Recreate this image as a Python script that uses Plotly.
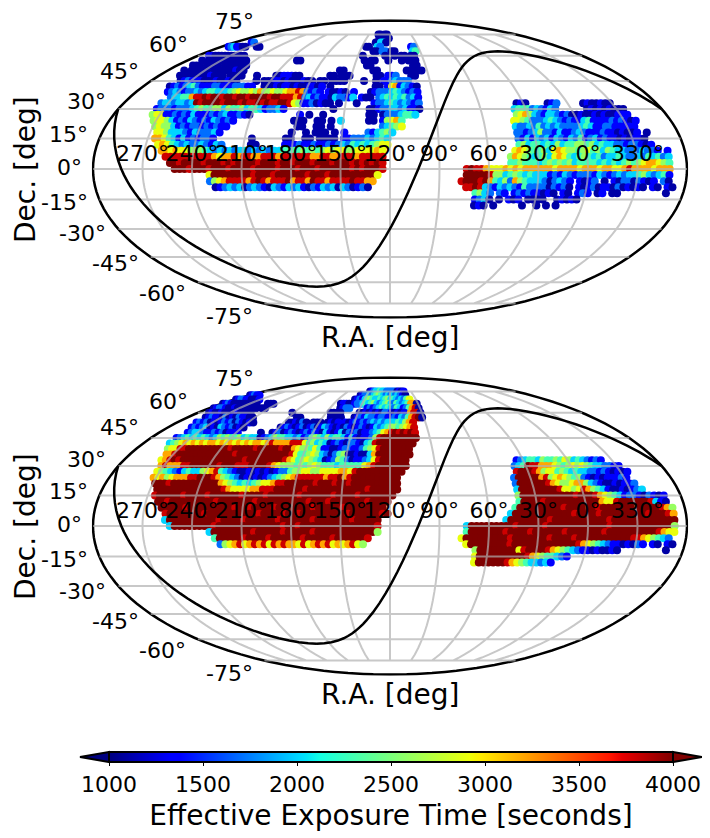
import plotly.graph_objects as go

# the page has an 8 px body margin, so the figure is 702 x 830 starting at (8, 8)
W, H = 702, 830


def px(x):
    return (x - 8) / W


def py(y):
    return 1 - (y - 8) / H


# declination of each row of cells, 3 deg steps
dec_rows = [75, 72, 69, 66, 63, 60, 57, 54, 51, 48, 45, 42, 39, 36, 33, 30, 27, 24, 21, 18, 15, 12, 9, 6, 3, 0, -3, -6, -9, -12, -15, -18]

# exposure for each character in the rows below
exposure_levels = [1100, 1350, 1700, 2000, 2300, 2600, 2900, 3200, 3800, 4000]

# each row = 12 groups, one per 30 deg of R.A. (left to right, 300 -> 270 -> ... -> 300)
# a group holds 10 cells of 3 deg, "." is no data, short groups are padded on the right
top_rows = [
    ". . . . . ....00.00.",
    ". . . . . .....00.00",
    "......12 . . . . ....00330",
    "..1231100 ..00 . . . .00..32 .......12",
    ". . . . . ....00.22 00.....34",
    "...1100000 00000 . . . .0......0 .0.00.00",
    "....0.0.00 0.00.000 . ..00 . ..0.00...0 ...0.000",
    "....000.00 00.0000.00 . . . ...00 ......00",
    "....0.0000 0.00000010 0 . ......00 .....00 ....00.00",
    ".....00000 0001000.00 00...0 0011100 ....00.000 ......00.1 12...00",
    ".......012 1110001001 00....0.00 0110100010 0.00.0000 ...0..0.11 23222",
    "......0121 2342111221 1122211..0 0010110100 1101.0 ......00.1 6713210",
    ".......123 2122323443 3345655657 5565567787 2121.10010 .1...01222 3432121",
    ".........2 3344788989 9899899899 9989988878 2312110322 13.100.234 3434231",
    "........23 3233239899 9989998988 9898899865 1120100.0 ..0...1223 4323212 . ........01 0....012 ...0100100",
    "........12 2212223454 4553544534 4312231 .......0 .....00122 3323110 . .......344 4232132 ...0101010 00",
    "........56 6112121311 1212311210 . 1.0..0 .....00.02 223443 . .......567 5321332120 0100101001 11",
    ".........5 6653121321 2132121 .........0 00..00.0.3 .....00.15 674 . ......6654 2223432121 1341111212 101",
    ". 5655312122 121211 . 00..00.0 ........23 456 . ......3223 2423232222 3431122111 11",
    ". .665333213 22231 .........0 ..0.000.0 1....21345 3 . ......2212 3522131123 2111211010 01.0",
    ". .776431312 1221 .0......00 ..00.0000 1122232343 . . ......2131 3231321324 1231211010 110",
    ". ..67643232 232132 .00.....11 1211211212 3243434566 . . ......4534 4343534455 4534332212 2101",
    ". ...7767665 5543232323 3232323344 4454545656 655666676 . . .....67654 4536765545 6453543322 23221.1",
    ". ....888888 8888767787 8877888788 8888778877 888788888 . . ....576543 4536764345 4342334322 3243423",
    ". .....99899 9989998989 9998999899 8999899989 998989898 . . ....445444 3454545344 4434343454 5677654",
    ". ......9998 9998999899 9989999899 9899989999 998989998 . .....89887 6667676777 7776777767 7767766787 7776777",
    ". . ...6999999 9989998999 9998999899 99999996 . .....99999 8553454343 3312132122 2132123233 4532341",
    ". . ...2567888 8789878889 7887988788 8898877 . ....899989 7435275433 3202321.10 12.0.10220 2101.20",
    ". . ....012323 0232103213 2310213230 320120 . .....88983 2132321422 2202120.10 1201102010 10.10.10",
    ". . . . . . . .......453 2.21.12121 1010.10.12 1.01.00 ......0",
    ". . . . . . . .......123 0.0.101.00 00..01010",
    ". . . . . . . .......010 .0.....0 0.0.0",
]

bottom_rows = [
    ". . . . . 0123343322 2220101",
    "01211 . . . .......012 2323454323 2323210",
    "0122110001 . . . ......0121 3454334345 34323246",
    "0121000000 000...000 . . ..01100122 3434532345 3243234770",
    ".012210010 0.0000.00 . . ...0122 ..12123434 3243124780",
    "...0100100 00100.0 .........0 . .0000 0010101022 10101.7880",
    ".....01211 0201021100 . ..00 ..0000...0 1213221221 1213247890",
    ".....12120 1012120210 10 .001020.00 0.0101.101 2121232323 3343578",
    "......1212 3010321201 0 0121012012 0132101021 0121013234 5545678",
    ".......123 3211212011 1.....0..0 1201210121 2103101302 1201123467 8989898",
    "......1234 3434323545 4453433012 3544332312 4543534431 3101125899 9999999",
    "......3456 7676767767 6767676776 7877778886 4534301210 2210348999 999999",
    ".......566 8899999999 9989999989 9999899765 5464110012 2112456899 99999",
    "........77 8999999999 9999899999 9999999864 4565320245 0010037999 99999",
    "........67 8989999999 9999999899 9999998764 5654301254 2011236899 9999 . ........12 3443544546 53432121",
    ".........7 8777889999 9989998889 9998765554 5456544434 4444678999 9999 . .......234 9887776545 6565433221 1",
    ".........6 5432134335 6784321001 0101012245 5665566667 7689999999 999 . .......899 9875664543 4332212101 01",
    ".........7 6756777889 9987543201 0101234567 8888887889 7899999999 99 . ......2999 9978567654 5210101112 1",
    ". 9998999999 9999765434 3456678899 9999899989 9899999999 99 . ......2999 9998765567 7532100101 12",
    ". .999999999 9999987666 6778889999 9989999999 9999989999 99 . ......3999 9999986656 8754310010 123",
    ". .899999899 9989999998 9999899999 9899999989 9998999999 9 . ......5999 9999999989 9987654312 2102101",
    ". ..99899999 9999899999 9989999999 9998999899 9999989999 . . ......4999 9899999999 9997668999 9998310",
    ". ...9999989 9999999989 9899998999 9999899999 899999999 . . .....49999 9999989999 9989999999 99999875",
    ". ....899999 9989999999 9998999989 9899999999 9899999989 . . ....399999 9999999899 9989999999 99899987",
    ". ....399999 9999989999 8999999899 9999899999 99899999 . . ...3999999 9989999999 9999899999 99999999",
    ". .....39999 9999899999 9999999989 9899999999 99999998 . .....39999 9999989999 9899999999 9999899999 99999995",
    ". . ...3999999 9989999989 9999899999 99999995 . .....49999 9998999989 9999989999 9998999999 99998766",
    ". . ....499999 8999989999 9989999989 999998 . ....699999 9999899999 9989999899 9999999998 8765432",
    ". . .....25678 6787868787 7686787867 67865 . .....69999 9999899999 9999999987 6543211010 21.10.10",
    ". . . . . . . .......599 9999996899 9987654321 1010010 ......0",
    ". . . . . . . .......699 9999999987 6544321",
    ". . . . . . . .......699 9999876543 3231",
]

# galactic plane, R.A. and Dec.
plane_ra = [192.86, 222.86, 252.86, 282.86, 312.86, 342.86, 12.86, 42.86, 72.86, 102.86, 132.86, 162.86, 192.86]
plane_dec = [-62.87, -59.4, -44.3, 0, 44.3, 59.4, 62.87, 59.4, 44.3, 0, -44.3, -59.4, -62.87]

ra_ticks = [270, 240, 210, 180, 150, 120, 90, 60, 30, 0, 330]
dec_ticks = [75, 60, 45, 30, 15, 0, -15, -30, -45, -60, -75]
# where the dec labels sit (right end x, centre y in pixels of the top panel)
dec_label_x = [256, 190, 141, 108, 90, 84, 90, 108, 141, 188, 255]
dec_label_y = [21, 44, 71, 102, 134, 167, 202, 234, 264, 293, 316]
cbar_ticks = [1000, 1500, 2000, 2500, 3000, 3500, 4000]

# matplotlib jet
jet = [[0, "rgb(0,0,127)"], [0.11, "rgb(0,0,255)"], [0.125, "rgb(0,0,255)"], [0.34, "rgb(0,219,255)"],
       [0.35, "rgb(0,229,249)"], [0.375, "rgb(20,255,226)"], [0.64, "rgb(238,255,8)"], [0.65, "rgb(247,245,0)"],
       [0.66, "rgb(255,236,0)"], [0.89, "rgb(255,20,0)"], [0.91, "rgb(232,0,0)"], [1, "rgb(127,0,0)"]]

FONT = "DejaVu Sans"


def to_lon(ra):
    # R.A. grows to the left and the map is centred on 120
    return (120 - ra + 180) % 360 - 180


def read_rows(rows):
    lon, lat, val = [], [], []
    for dec, row in zip(dec_rows, rows):
        for g, group in enumerate(row.split()):
            for c, ch in enumerate(group):
                if ch != ".":
                    lon.append(-180 + 30 * g + 3 * c + 1.5)
                    lat.append(dec)
                    val.append(exposure_levels[int(ch)])
    return lon, lat, val


fig = go.Figure()

# meridians stop at +-75, parallels run to the frame
grid_lon, grid_lat = [], []
for m in range(-150, 151, 30):
    grid_lon += [m, m, m, None]
    grid_lat += [-75, 0, 75, None]
for p in dec_ticks:
    for l in range(-180, 181, 5):
        grid_lon.append(max(min(l, 179.9), -179.9))
        grid_lat.append(p)
    grid_lon.append(None)
    grid_lat.append(None)

panels = [("geo", top_rows), ("geo2", bottom_rows)]
for geo_name, rows in panels:
    lon, lat, val = read_rows(rows)
    marker = dict(color=val, colorscale=jet, cmin=1000, cmax=4000, size=8, line=dict(width=0))
    if geo_name == "geo":
        marker["colorbar"] = dict(
            orientation="h", x=px(391), xanchor="center", y=py(752), yanchor="top",
            len=564 / W, lenmode="fraction", thickness=10, xpad=0, ypad=0,
            outlinecolor="black", outlinewidth=2,
            tickvals=cbar_ticks, ticks="outside", ticklen=3, tickwidth=1, tickcolor="black",
            tickfont=dict(family=FONT, size=22, color="black"),
            title=dict(text="Effective Exposure Time [seconds]", side="bottom",
                       font=dict(family=FONT, size=28, color="black")),
        )
    fig.add_trace(go.Scattergeo(geo=geo_name, lon=lon, lat=lat, mode="markers", marker=marker, hoverinfo="skip"))
    fig.add_trace(go.Scattergeo(geo=geo_name, lon=grid_lon, lat=grid_lat, mode="lines",
                                line=dict(color="rgba(176,176,176,0.7)", width=2), hoverinfo="skip"))
    fig.add_trace(go.Scattergeo(geo=geo_name, lon=[to_lon(r) for r in plane_ra], lat=plane_dec, mode="lines",
                                line=dict(color="black", width=2.5), hoverinfo="skip"))
    fig.add_trace(go.Scattergeo(geo=geo_name, lon=[to_lon(r) for r in ra_ticks], lat=[1] * len(ra_ticks),
                                mode="text", text=[f"{r}°" for r in ra_ticks], textposition="top center",
                                textfont=dict(family=FONT, size=22, color="black"), hoverinfo="skip"))

annotations = []
for shift in [0, 357]:
    for d, x, y in zip(dec_ticks, dec_label_x, dec_label_y):
        annotations.append(dict(text=f"{d}°", x=px(x), y=py(y + shift), xref="paper", yref="paper",
                                xanchor="right", yanchor="middle", showarrow=False,
                                font=dict(family=FONT, size=22, color="black")))
    annotations.append(dict(text="R.A. [deg]", x=px(390), y=py(337 + shift), xref="paper", yref="paper",
                            xanchor="center", yanchor="middle", showarrow=False,
                            font=dict(family=FONT, size=28, color="black")))
    annotations.append(dict(text="Dec. [deg]", x=px(25), y=py(170 + shift), xref="paper", yref="paper",
                            xanchor="center", yanchor="middle", showarrow=False, textangle=-90, borderpad=0,
                            font=dict(family=FONT, size=28, color="black")))


def geo_layout(top):
    return dict(
        domain=dict(x=[px(93), px(687)], y=[py(top + 298), py(top)]),
        projection=dict(type="mollweide"),
        showcoastlines=False, showland=False, showocean=False, showlakes=False, showrivers=False, showcountries=False,
        showframe=True, framecolor="black", framewidth=2.5, bgcolor="rgba(0,0,0,0)",
        lataxis=dict(showgrid=False), lonaxis=dict(showgrid=False),
    )


# extend triangles of the colour bar
def tri(x0, x1, color):
    return dict(type="path", xref="paper", yref="paper", fillcolor=color,
                path=f"M {px(x1)} {py(752)} L {px(x0)} {py(757)} L {px(x1)} {py(762)} Z",
                line=dict(color="black", width=2))


fig.update_layout(
    width=W, height=H, margin=dict(l=0, r=0, t=0, b=0),
    paper_bgcolor="white", showlegend=False,
    geo=geo_layout(20), geo2=geo_layout(377),
    annotations=annotations,
    shapes=[tri(80, 109, "#00007f"), tri(702, 673, "#7f0000")],
)

fig.write_html("out.html")
